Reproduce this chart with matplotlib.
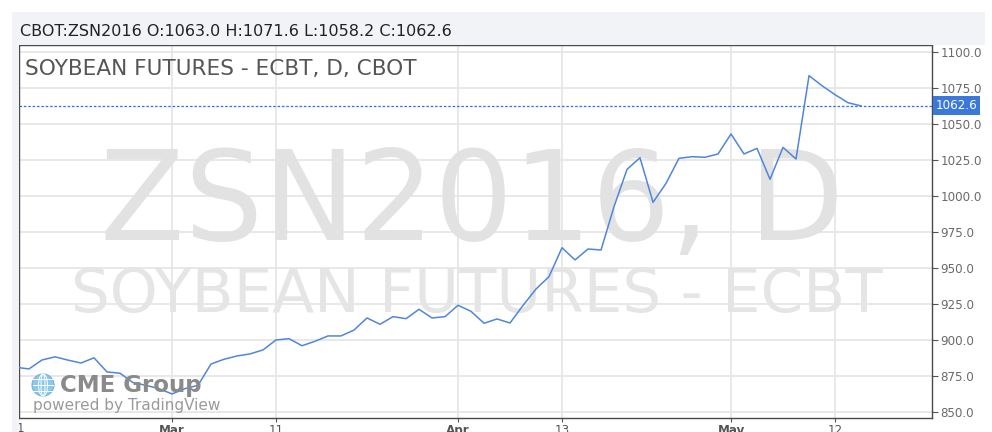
import matplotlib.pyplot as plt
import matplotlib.patches as mpatches
import matplotlib.transforms as mtransforms

# Daily closes, ZSN2016 (trading days only)
dates = ['Feb 11', 'Feb 12', 'Feb 16', 'Feb 17', 'Feb 18', 'Feb 19', 'Feb 22', 'Feb 23',
         'Feb 24', 'Feb 25', 'Feb 26', 'Feb 29', 'Mar 1', 'Mar 2', 'Mar 3', 'Mar 4',
         'Mar 7', 'Mar 8', 'Mar 9', 'Mar 10', 'Mar 11', 'Mar 14', 'Mar 15', 'Mar 16',
         'Mar 17', 'Mar 18', 'Mar 21', 'Mar 22', 'Mar 23', 'Mar 24', 'Mar 28', 'Mar 29',
         'Mar 30', 'Mar 31', 'Apr 1', 'Apr 4', 'Apr 5', 'Apr 6', 'Apr 7', 'Apr 8',
         'Apr 11', 'Apr 12', 'Apr 13', 'Apr 14', 'Apr 15', 'Apr 18', 'Apr 19', 'Apr 20',
         'Apr 21', 'Apr 22', 'Apr 25', 'Apr 26', 'Apr 27', 'Apr 28', 'Apr 29', 'May 2',
         'May 3', 'May 4', 'May 5', 'May 6', 'May 9', 'May 10', 'May 11', 'May 12',
         'May 13', 'May 16']
close = [881.0, 879.9, 886.1, 888.3, 886.0, 884.0, 887.6, 877.8,
         876.9, 870.4, 868.5, 866.2, 862.5, 866.2, 868.5, 883.3,
         886.6, 888.9, 890.3, 893.1, 900.0, 900.9, 896.0, 899.1,
         902.8, 902.8, 906.9, 915.3, 910.9, 916.2, 914.8, 921.3,
         915.3, 916.2, 924.1, 919.9, 911.6, 914.6, 911.8, 924.0,
         935.4, 944.0, 964.1, 955.6, 963.2, 962.5, 992.6, 1018.5,
         1026.6, 995.6, 1008.8, 1026.2, 1027.3, 1026.9, 1029.2, 1043.1,
         1029.2, 1033.1, 1011.6, 1033.8, 1025.7, 1083.6, 1076.6, 1070.4,
         1064.8, 1062.6]

tick_dates = ['Mar 1', 'Mar 11', 'Apr 1', 'Apr 13', 'May 2', 'May 12']
tick_labels = ['Mar', '11', 'Apr', '13', 'May', '12']
yticks = [850, 875, 900, 925, 950, 975, 1000, 1025, 1050, 1075, 1100]
last_price = 1062.6

header = 'CBOT:ZSN2016 O:1063.0 H:1071.6 L:1058.2 C:1062.6'
title = 'SOYBEAN FUTURES - ECBT, D, CBOT'

line_col = '#4f86dc'
text_gray = '#555555'

fig = plt.figure(figsize=(9.92, 4.32), dpi=100, facecolor='white')

# light panel behind header and left edge
panel = '#f1f3f6'
fig.patches.append(mpatches.Rectangle((12 / 992, 1 - 45 / 432), 973 / 992, 33 / 432,
                                      transform=fig.transFigure, fc=panel, ec='none', zorder=0))
fig.patches.append(mpatches.Rectangle((12 / 992, 0), 7 / 992, 1 - 45 / 432,
                                      transform=fig.transFigure, fc=panel, ec='none', zorder=0))

ax = fig.add_axes([19 / 992, 1 - 418 / 432, 913 / 992, 373 / 432])
x = list(range(len(dates)))
ax.plot(x, close, color=line_col, lw=1.1, zorder=4)

ax.set_xlim(0.23, 70.46)
ax.set_ylim(845.8, 1104.9)

ax.yaxis.tick_right()
ax.set_yticks(yticks)
ax.set_yticklabels([f'{v:.1f}' for v in yticks])
ax.tick_params(axis='y', direction='out', length=4, width=0.8, color='#555555',
               labelsize=8.6, labelcolor='#6a6a6a', pad=2)

ax.set_xticks([dates.index(d) for d in tick_dates])
ax.set_xticklabels(tick_labels)
for lbl in ax.get_xticklabels():
    if lbl.get_text() in ('Mar', 'Apr', 'May'):
        lbl.set_fontweight('bold')
ax.tick_params(axis='x', direction='out', length=3, width=0.8, color='#555555',
               labelsize=8.6, labelcolor=text_gray, pad=1)
# cut-off label at the left edge
ax.text(0.002, -0.012, '1', transform=ax.transAxes, ha='center', va='top',
        fontsize=8.6, color=text_gray)

ax.grid(True, color='#e6e6e6', lw=1.3, zorder=0)
ax.set_axisbelow(True)
for side in ax.spines:
    ax.spines[side].set_color('#4a4a4a')
    ax.spines[side].set_linewidth(1.0)

# watermarks
ax.text(0.496, 0.477, 'ZSN2016, D', transform=ax.transAxes, ha='center', va='baseline',
        fontsize=89, color='#e2e2e2', zorder=1)
ax.text(0.502, 0.284, 'SOYBEAN FUTURES - ECBT', transform=ax.transAxes, ha='center',
        va='baseline', fontsize=44, color='#e5e5e5', zorder=1)

# title inside the plot
ax.text(0.0066, 0.9196, title, transform=ax.transAxes, ha='left', va='baseline',
        fontsize=15.6, color=text_gray, zorder=5)

# last price line and label
ax.axhline(last_price, color='#2f6fe0', lw=0.9, ls=(0, (2, 1.5)), zorder=3)
trans = mtransforms.blended_transform_factory(ax.transAxes, ax.transData)
ax.text(1.004, last_price, f'{last_price:.1f}', transform=trans, ha='left', va='center',
        fontsize=8.6, color='white', zorder=6, clip_on=False,
        bbox=dict(boxstyle='square,pad=0.25', fc='#3a78db', ec='none'))

# CME Group logo
gx, gy = (43 - 19) / 913, (418 - 385) / 373
globe = mpatches.Ellipse((gx, gy), 22 / 913, 22 / 373, transform=ax.transAxes,
                         fc='#8cc8ea', ec='#6fb3de', lw=0.8, zorder=5)
ax.add_patch(globe)
for dy in (-6, 0, 6):
    ax.plot([gx - 10 / 913, gx + 10 / 913], [gy + dy / 373, gy + dy / 373],
            transform=ax.transAxes, color='white', lw=0.7, zorder=6)
for w in (4, 9):
    ax.add_patch(mpatches.Ellipse((gx, gy), w / 913, 22 / 373, transform=ax.transAxes,
                                  fc='none', ec='white', lw=0.7, zorder=6))
ax.text((60 - 19) / 913, (418 - 392) / 373, 'CME Group', transform=ax.transAxes,
        ha='left', va='baseline', fontsize=16.5, fontweight='bold', color='#8a8a8a', zorder=5)
ax.text((33 - 19) / 913, (418 - 410) / 373, 'powered by TradingView', transform=ax.transAxes,
        ha='left', va='baseline', fontsize=11, color='#9a9a9a', zorder=5)

# header above plot
fig.text(20 / 992, 1 - 36 / 432, header, ha='left', va='baseline', fontsize=11.5, color='#222222')

fig.savefig('out.png', dpi=100, facecolor='white')
